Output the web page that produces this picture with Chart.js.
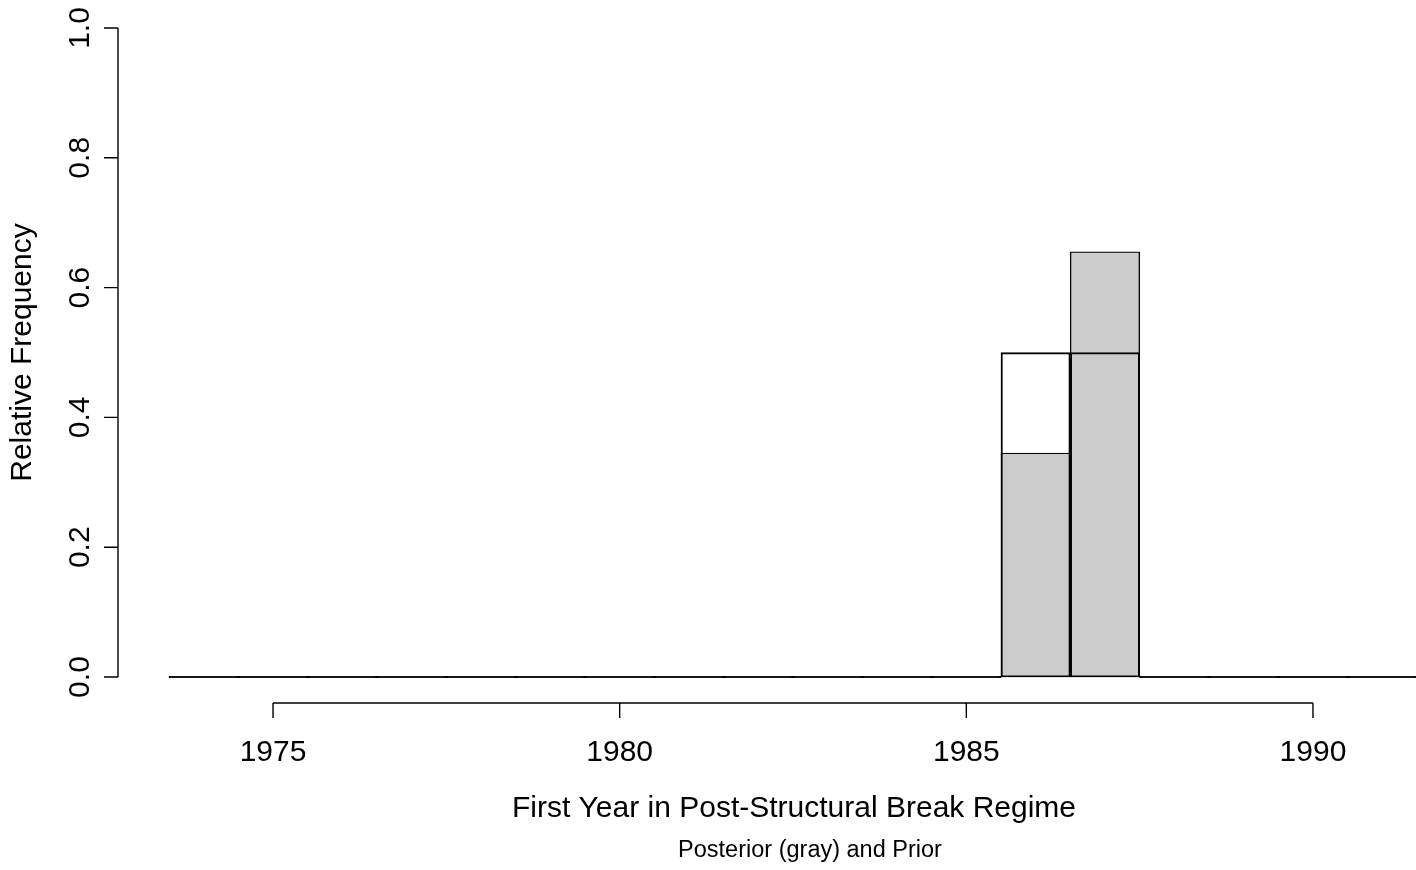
<!DOCTYPE html>
<html>
<head>
<meta charset="utf-8">
<script src="https://cdn.jsdelivr.net/npm/chart.js@4.4.1/dist/chart.umd.min.js"></script>
<style>
  html, body { margin: 0; padding: 0; background: #fff; }
  canvas { display: block; }
</style>
</head>
<body>
<canvas id="myChart" width="1416" height="870"></canvas>
<script>
// Histogram bins (one year wide, centred on the year)
const years = [1974, 1975, 1976, 1977, 1978, 1979, 1980, 1981, 1982,
               1983, 1984, 1985, 1986, 1987, 1988, 1989, 1990, 1991];
const posterior = [0, 0, 0, 0, 0, 0, 0, 0, 0, 0, 0, 0, 0.345, 0.655, 0, 0, 0, 0];
const prior     = [0, 0, 0, 0, 0, 0, 0, 0, 0, 0, 0, 0, 0.5,   0.5,   0, 0, 0, 0];

// Axis tick labels
const xTicks = [1975, 1980, 1985, 1990];
const yTicks = [0, 0.2, 0.4, 0.6, 0.8, 1.0];

const xLabel = "First Year in Post-Structural Break Regime";
const yLabel = "Relative Frequency";
const subLabel = "Posterior (gray) and Prior";

const FONT = '"Liberation Sans", Arial, Helvetica, sans-serif';

// R-style axes drawn from the chart's own scales
const rAxes = {
  id: "rAxes",
  afterDraw(chart) {
    const ctx = chart.ctx;
    const xs = chart.scales.x;
    const ys = chart.scales.y;
    const area = chart.chartArea;

    ctx.save();
    ctx.strokeStyle = "#000";
    ctx.fillStyle = "#000";
    ctx.lineWidth = 1.4;

    // y axis
    const ax = area.left;
    ctx.beginPath();
    ctx.moveTo(ax, ys.getPixelForValue(yTicks[0]));
    ctx.lineTo(ax, ys.getPixelForValue(yTicks[yTicks.length - 1]));
    yTicks.forEach(v => {
      const py = ys.getPixelForValue(v);
      ctx.moveTo(ax, py);
      ctx.lineTo(ax - 14, py);
    });
    ctx.stroke();

    ctx.font = "30px " + FONT;
    ctx.textAlign = "center";
    ctx.textBaseline = "alphabetic";
    yTicks.forEach(v => {
      ctx.save();
      ctx.translate(89, ys.getPixelForValue(v));
      ctx.rotate(-Math.PI / 2);
      ctx.fillText(v.toFixed(1), 0, 0);
      ctx.restore();
    });

    // x axis
    const ay = area.bottom;
    ctx.beginPath();
    ctx.moveTo(xs.getPixelForValue(xTicks[0]), ay);
    ctx.lineTo(xs.getPixelForValue(xTicks[xTicks.length - 1]), ay);
    xTicks.forEach(v => {
      const px = xs.getPixelForValue(v);
      ctx.moveTo(px, ay);
      ctx.lineTo(px, ay + 15);
    });
    ctx.stroke();

    xTicks.forEach(v => {
      ctx.fillText(String(v), xs.getPixelForValue(v), 761);
    });

    // titles
    ctx.fillText(xLabel, 794, 817);
    ctx.save();
    ctx.translate(31, (ys.getPixelForValue(0) + ys.getPixelForValue(1)) / 2);
    ctx.rotate(-Math.PI / 2);
    ctx.fillText(yLabel, 0, 0);
    ctx.restore();

    ctx.font = "23.5px " + FONT;
    ctx.fillText(subLabel, 810, 857);

    ctx.restore();
  }
};

const ctx = document.getElementById("myChart").getContext("2d");

const chart = new Chart(ctx, {
  type: "bar",
  data: {
    datasets: [
      {
        label: "Prior",
        data: years.map((y, i) => ({ x: y, y: prior[i] })),
        backgroundColor: "rgba(0, 0, 0, 0)",
        borderColor: "#000",
        borderWidth: 1.3,
        borderSkipped: false,
        grouped: false,
        minBarLength: 1.5,
        barPercentage: 1.0,
        categoryPercentage: 1.0,
      },
      {
        label: "Posterior",
        data: years.map((y, i) => ({ x: y, y: posterior[i] })),
        backgroundColor: "#cccccc",
        borderColor: "#000",
        borderWidth: 1.3,
        borderSkipped: false,
        grouped: false,
        minBarLength: 1.5,
        barPercentage: 1.0,
        categoryPercentage: 1.0,
      },
    ],
  },
  options: {
    responsive: false,
    animation: false,
    layout: {
      padding: { left: 118, right: 0, top: 2, bottom: 167 },
    },
    plugins: {
      legend: { display: false },
      tooltip: { enabled: false },
    },
    scales: {
      x: {
        type: "linear",
        display: false,
        offset: false,
        min: 1972.764,
        max: 1991.486,
        ticks: { stepSize: 5, includeBounds: false },
      },
      y: {
        display: false,
        min: -0.04,
        max: 1.04,
      },
    },
  },
  plugins: [rAxes],
});
</script>
</body>
</html>
